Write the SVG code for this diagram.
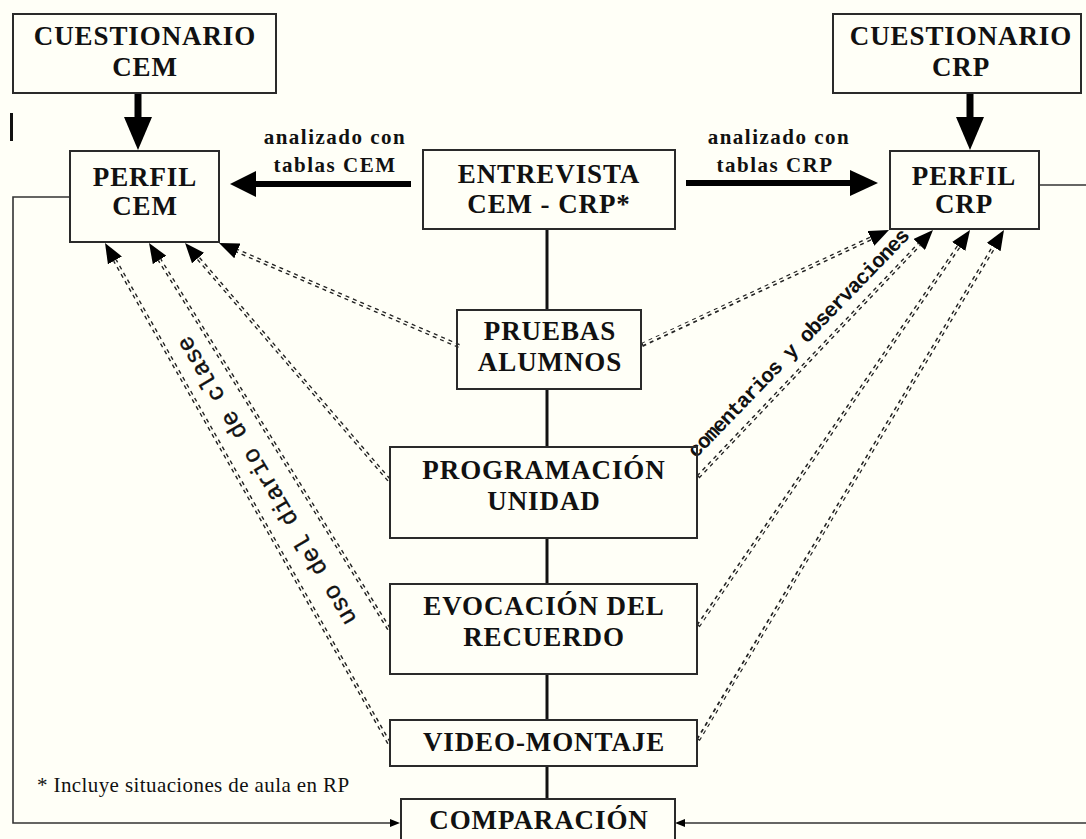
<svg xmlns="http://www.w3.org/2000/svg" width="1086" height="839" viewBox="0 0 1086 839">
<defs>
<style>
.box{fill:none;stroke:#2a2a2a;stroke-width:2}
.lbl{font-family:"Liberation Serif","Times New Roman",serif;font-weight:bold;font-size:27px;letter-spacing:0.9px;fill:#111;text-anchor:middle}
.small{font-family:"Liberation Serif","Times New Roman",serif;font-weight:bold;font-size:21px;letter-spacing:1.5px;fill:#111;text-anchor:middle}
.note{font-family:"Liberation Serif","Times New Roman",serif;font-size:21px;letter-spacing:0.4px;fill:#111}
.dash{fill:none;stroke:#222;stroke-width:4.2;stroke-dasharray:4 4}
.gap{fill:none;stroke:#fffff7;stroke-width:1.4}
.thin{fill:none;stroke:#333;stroke-width:1.6}
.spine{stroke:#111;stroke-width:3}
.thick{stroke:#000;stroke-width:6}
.head{fill:#000}
.mono{font-family:"Liberation Mono","Courier New",monospace;fill:#111;text-anchor:middle}
</style>
<marker id="ah" markerUnits="userSpaceOnUse" markerWidth="20" markerHeight="16" refX="0" refY="8" orient="auto" viewBox="0 0 20 16"><path d="M0,0 L20,8 L0,16 z" fill="#000"/></marker>
<marker id="sm" markerUnits="userSpaceOnUse" markerWidth="10" markerHeight="8" refX="0" refY="4" orient="auto" viewBox="0 0 10 8"><path d="M0,0 L10,4 L0,8 z" fill="#000"/></marker>
</defs>
<rect width="1086" height="839" fill="#fffff7"/>

<g id="connectors">
  <line class="spine" x1="547" y1="229" x2="547" y2="310"/>
  <line class="spine" x1="547" y1="389" x2="547" y2="447"/>
  <line class="spine" x1="547" y1="538" x2="547" y2="584"/>
  <line class="spine" x1="547" y1="674" x2="547" y2="720"/>
  <line class="spine" x1="547" y1="766" x2="547" y2="799"/>
  <line class="thick" x1="138" y1="93" x2="138" y2="120" style="stroke-width:7"/>
  <polygon class="head" points="124,117 152,117 138,150"/>
  <line class="thick" x1="970" y1="93" x2="970" y2="120" style="stroke-width:7"/>
  <polygon class="head" points="956,117 984,117 970,150"/>
  <line class="thick" x1="411" y1="184" x2="252" y2="184"/>
  <polygon class="head" points="230,184 256,171 256,197"/>
  <line class="thick" x1="686" y1="183" x2="852" y2="183"/>
  <polygon class="head" points="878,183 850,170 850,196"/>
  <polyline class="thin" points="70,197 13,197 13,823 390,823" marker-end="url(#sm)"/>
  <polyline class="thin" points="1039,185 1086,185"/>
  <polyline class="thin" points="1086,823 685,823" marker-end="url(#sm)"/>
  <line x1="11.5" y1="113" x2="11.5" y2="141" stroke="#111" stroke-width="3"/>
  <path class="dash" d="M459,346 L237.4,250.9" marker-end="url(#ah)"/>
  <path class="gap" d="M459,346 L237.4,250.9"/>
  <path class="dash" d="M389,480 L198.1,258.1" marker-end="url(#ah)"/>
  <path class="gap" d="M389,480 L198.1,258.1"/>
  <path class="dash" d="M389,629 L159.6,259.9" marker-end="url(#ah)"/>
  <path class="gap" d="M389,629 L159.6,259.9"/>
  <path class="dash" d="M389,743 L114.9,260.4" marker-end="url(#ah)"/>
  <path class="gap" d="M389,743 L114.9,260.4"/>
  <path class="dash" d="M642,345 L870.9,238.4" marker-end="url(#ah)"/>
  <path class="gap" d="M643,344 L870.9,238.4"/>
  <path class="dash" d="M698,477 L919.2,244.5" marker-end="url(#ah)"/>
  <path class="gap" d="M699,476 L919.2,244.5"/>
  <path class="dash" d="M698,626 L958.7,246.5" marker-end="url(#ah)"/>
  <path class="gap" d="M699,625 L958.7,246.5"/>
  <path class="dash" d="M698,740 L993.7,247.1" marker-end="url(#ah)"/>
  <path class="gap" d="M699,739 L993.7,247.1"/>
  <text class="small" x="335" y="144">analizado con</text>
  <text class="small" x="335" y="172">tablas CEM</text>
  <text class="small" x="779" y="144">analizado con</text>
  <text class="small" x="775" y="172">tablas CRP</text>
  <text class="mono" x="803" y="348" font-size="21" font-weight="bold" style="letter-spacing:-1.2px" transform="rotate(-46 803 348)">comentarios y observaciones</text>
  <text class="mono" x="273" y="477" font-size="24" stroke="#111" stroke-width="0.4" transform="rotate(-120.5 273 477)">uso del diario de clase</text>
</g>

<g id="cuestionario-cem">
  <rect class="box" x="13" y="14" width="263" height="79"/>
  <text class="lbl" x="145" y="45">CUESTIONARIO</text>
  <text class="lbl" x="145" y="76">CEM</text>
</g>
<g id="cuestionario-crp">
  <rect class="box" x="833" y="14" width="248" height="79"/>
  <text class="lbl" x="961" y="45">CUESTIONARIO</text>
  <text class="lbl" x="961" y="76">CRP</text>
</g>
<g id="perfil-cem">
  <rect class="box" x="70" y="151" width="149" height="91"/>
  <text class="lbl" x="145" y="186">PERFIL</text>
  <text class="lbl" x="145" y="215">CEM</text>
</g>
<g id="perfil-crp">
  <rect class="box" x="890" y="151" width="149" height="78"/>
  <text class="lbl" x="964" y="185">PERFIL</text>
  <text class="lbl" x="964" y="213">CRP</text>
</g>
<g id="entrevista">
  <rect class="box" x="423" y="150" width="252" height="79"/>
  <text class="lbl" x="549" y="183">ENTREVISTA</text>
  <text class="lbl" x="549" y="213">CEM - CRP*</text>
</g>
<g id="pruebas">
  <rect class="box" x="457" y="310" width="184" height="79"/>
  <text class="lbl" x="550" y="340">PRUEBAS</text>
  <text class="lbl" x="550" y="371">ALUMNOS</text>
</g>
<g id="programacion">
  <rect class="box" x="390" y="447" width="307" height="91"/>
  <text class="lbl" x="544" y="479">PROGRAMACIÓN</text>
  <text class="lbl" x="544" y="510">UNIDAD</text>
</g>
<g id="evocacion">
  <rect class="box" x="390" y="584" width="307" height="90"/>
  <text class="lbl" x="544" y="615">EVOCACIÓN DEL</text>
  <text class="lbl" x="544" y="646">RECUERDO</text>
</g>
<g id="video">
  <rect class="box" x="390" y="720" width="307" height="46"/>
  <text class="lbl" x="544" y="751">VIDEO-MONTAJE</text>
</g>
<g id="comparacion">
  <rect class="box" x="401" y="799" width="274" height="60"/>
  <text class="lbl" x="539" y="829">COMPARACIÓN</text>
</g>
<g id="nota">
  <text class="note" x="37" y="792">* Incluye situaciones de aula en RP</text>
</g>
</svg>
